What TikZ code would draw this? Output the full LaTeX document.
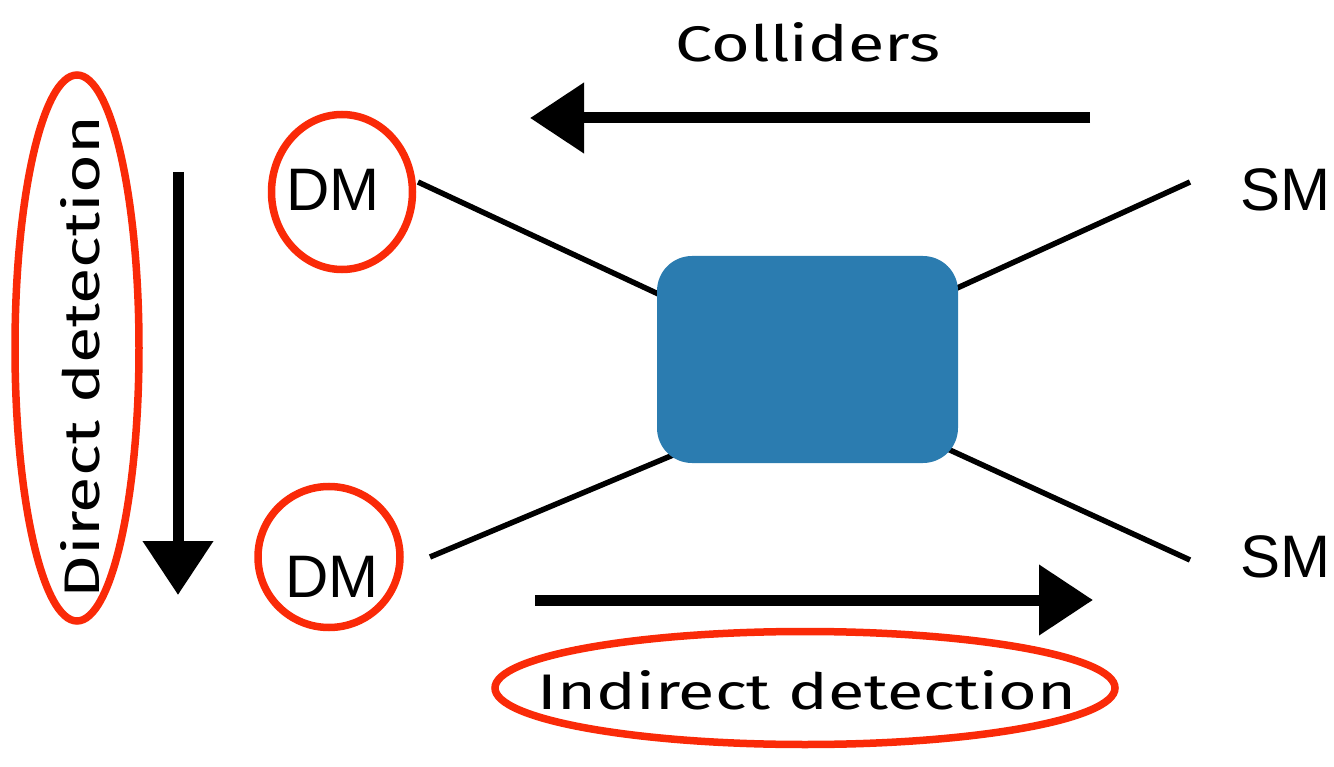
\documentclass[tikz,border=0pt]{standalone}
\usepackage{fontspec}
\setmainfont{Liberation Sans}
\newfontfamily\handfont[FakeStretch=1.33]{Fira Sans}
\usetikzlibrary{arrows.meta,shapes.geometric,calc,backgrounds}
\definecolor{chalkred}{RGB}{250,42,8}
\definecolor{boxblue}{RGB}{43,124,176}
\begin{document}
\begin{tikzpicture}[x=1pt,y=-1pt,
  ring/.style={draw=chalkred, line width=7.5pt, ellipse, inner sep=0pt},
  leg/.style={line width=5.5pt},
  bigarrow/.style={line width=11pt, -{Triangle[length=54pt,width=68pt]}},
  hand/.style={font=\handfont\fontsize{50}{56}\selectfont, inner sep=0pt},
  particle/.style={font=\fontsize{60}{66}\selectfont, inner sep=0pt}]
\useasboundingbox (0,0) rectangle (1334,767);

% the interaction blob
\node[fill=boxblue, rounded corners=35pt, minimum width=301pt, minimum height=207pt, inner sep=0pt] (box) at (807.5,359.5) {};

% particle labels
\node[particle] (dm1) at (333,190) {DM};
\node[particle] (dm2) at (332,577) {DM};
\node[particle] (sm1) at (1285,190) {SM};
\node[particle] (sm2) at (1285,557) {SM};

% free ends of the legs
\coordinate (l1) at (418,182);
\coordinate (l2) at (430,557);
\coordinate (r1) at (1190,182);
\coordinate (r2) at (1190,560);

\begin{scope}[on background layer]
  \draw[leg] (l1) -- ($(box.west)+(23,-55.5)$);
  \draw[leg] (l2) -- ($(box.west)+(33,88.5)$);
  \draw[leg] (r1) -- ($(box.east)+(-23,-61.5)$);
  \draw[leg] (r2) -- ($(box.east)+(-28,81.5)$);
\end{scope}

% circled particles
\node[ring, minimum width=141pt, minimum height=155pt] (dm1ring) at (342,192) {};
\node[ring, minimum width=142pt, minimum height=141pt] (dm2ring) at (329,557) {};

% handwritten labels and their rings
\node[hand] (colliders) at (808,42) {Colliders};
\node[hand, rotate=90] (direct) at (80,357) {Direct detection};
\node[hand] (indirect) at (807,690) {Indirect detection};
\node[ring, minimum width=124pt, minimum height=546pt] (directring) at (77,348) {};
\node[ring, minimum width=620pt, minimum height=113pt] (indirectring) at (805,688) {};

% direction arrows
\coordinate (ctail) at (1090,118);
\coordinate (chead) at (530,118);
\coordinate (dtail) at (178,172);
\coordinate (dhead) at (178,595);
\coordinate (itail) at (535,600);
\coordinate (ihead) at (1093,600);
\draw[bigarrow] (ctail) -- (chead);
\draw[bigarrow] (dtail) -- (dhead);
\draw[bigarrow] (itail) -- (ihead);
\end{tikzpicture}
\end{document}
